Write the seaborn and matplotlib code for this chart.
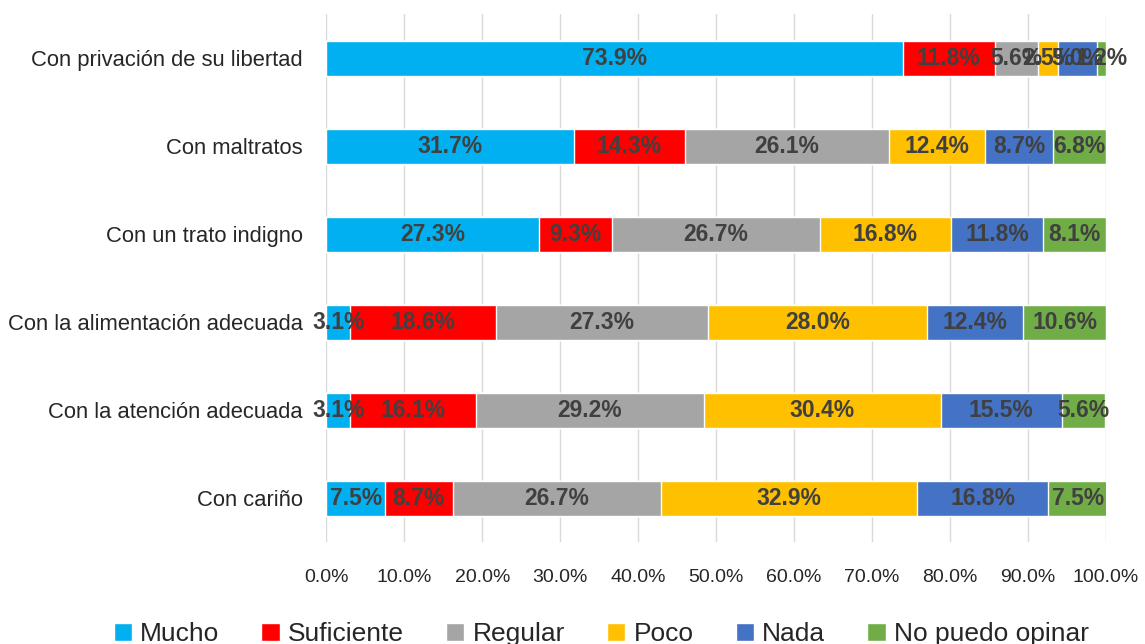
import matplotlib
matplotlib.use('Agg')
from matplotlib import pyplot as plt
from matplotlib.patches import Patch
import numpy as np
import pandas as pd
import seaborn as sns

categorias = ['Con privación de su libertad', 'Con maltratos', 'Con un trato indigno',
              'Con la alimentación adecuada', 'Con la atención adecuada', 'Con cariño']
respuestas = ['Mucho', 'Suficiente', 'Regular', 'Poco', 'Nada', 'No puedo opinar']
colores = ['#00B0F0', '#FF0000', '#A5A5A5', '#FFC000', '#4472C4', '#70AD47']

mucho = [73.9, 31.7, 27.3, 3.1, 3.1, 7.5]
suficiente = [11.8, 14.3, 9.3, 18.6, 16.1, 8.7]
regular = [5.6, 26.1, 26.7, 27.3, 29.2, 26.7]
poco = [2.5, 12.4, 16.8, 28.0, 30.4, 32.9]
nada = [5.0, 8.7, 11.8, 12.4, 15.5, 16.8]
no_opina = [1.2, 6.8, 8.1, 10.6, 5.6, 7.5]

df = pd.DataFrame({'Mucho': mucho, 'Suficiente': suficiente, 'Regular': regular,
                   'Poco': poco, 'Nada': nada, 'No puedo opinar': no_opina},
                  index=categorias)
cum = df.cumsum(axis=1)

sns.set_theme(style='white')
plt.rcParams['font.family'] = ['Liberation Sans', 'DejaVu Sans']

fig = plt.figure(figsize=(11.45, 6.44), dpi=100)
ax = fig.add_axes([0.285, 0.158, 0.681, 0.82])

# barras apiladas: acumulados de mayor a menor
for resp, col in reversed(list(zip(respuestas, colores))):
    d = pd.DataFrame({'cat': categorias, 'val': cum[resp].values})
    sns.barplot(data=d, y='cat', x='val', order=categorias, color=col,
                width=0.4, saturation=1, ax=ax, zorder=3)

# etiquetas
for i, cat in enumerate(categorias):
    left = 0
    for resp in respuestas:
        v = df.loc[cat, resp]
        ax.text(left + v / 2, i, f'{v:.1f}%', ha='center', va='center',
                fontsize=16.5, fontweight='bold', color='#404040', zorder=5,
                clip_on=False)
        left += v

ax.set_xlim(0, 100)
ax.set_ylim(len(categorias) - 0.5, -0.5)
ax.set_xticks(np.arange(0, 101, 10))
ax.set_xticklabels([f'{t:.1f}%' for t in np.arange(0, 101, 10)], fontsize=14)
ax.tick_params(axis='x', length=0, pad=19)
ax.tick_params(axis='y', length=0, pad=17, labelsize=15.8)
ax.set_xlabel('')
ax.set_ylabel('')
ax.grid(axis='x', color='#D9D9D9', linewidth=1, zorder=0)
for s in ax.spines.values():
    s.set_visible(False)

handles = [Patch(facecolor=c, label=r) for r, c in zip(respuestas, colores)]
fig.legend(handles=handles, loc='lower center', bbox_to_anchor=(0.525, -0.04),
           ncol=6, frameon=False, handlelength=0.7, handleheight=0.7,
           handletextpad=0.3, columnspacing=1.6, prop={'size': 19})

fig.savefig('out.png', dpi=100)
